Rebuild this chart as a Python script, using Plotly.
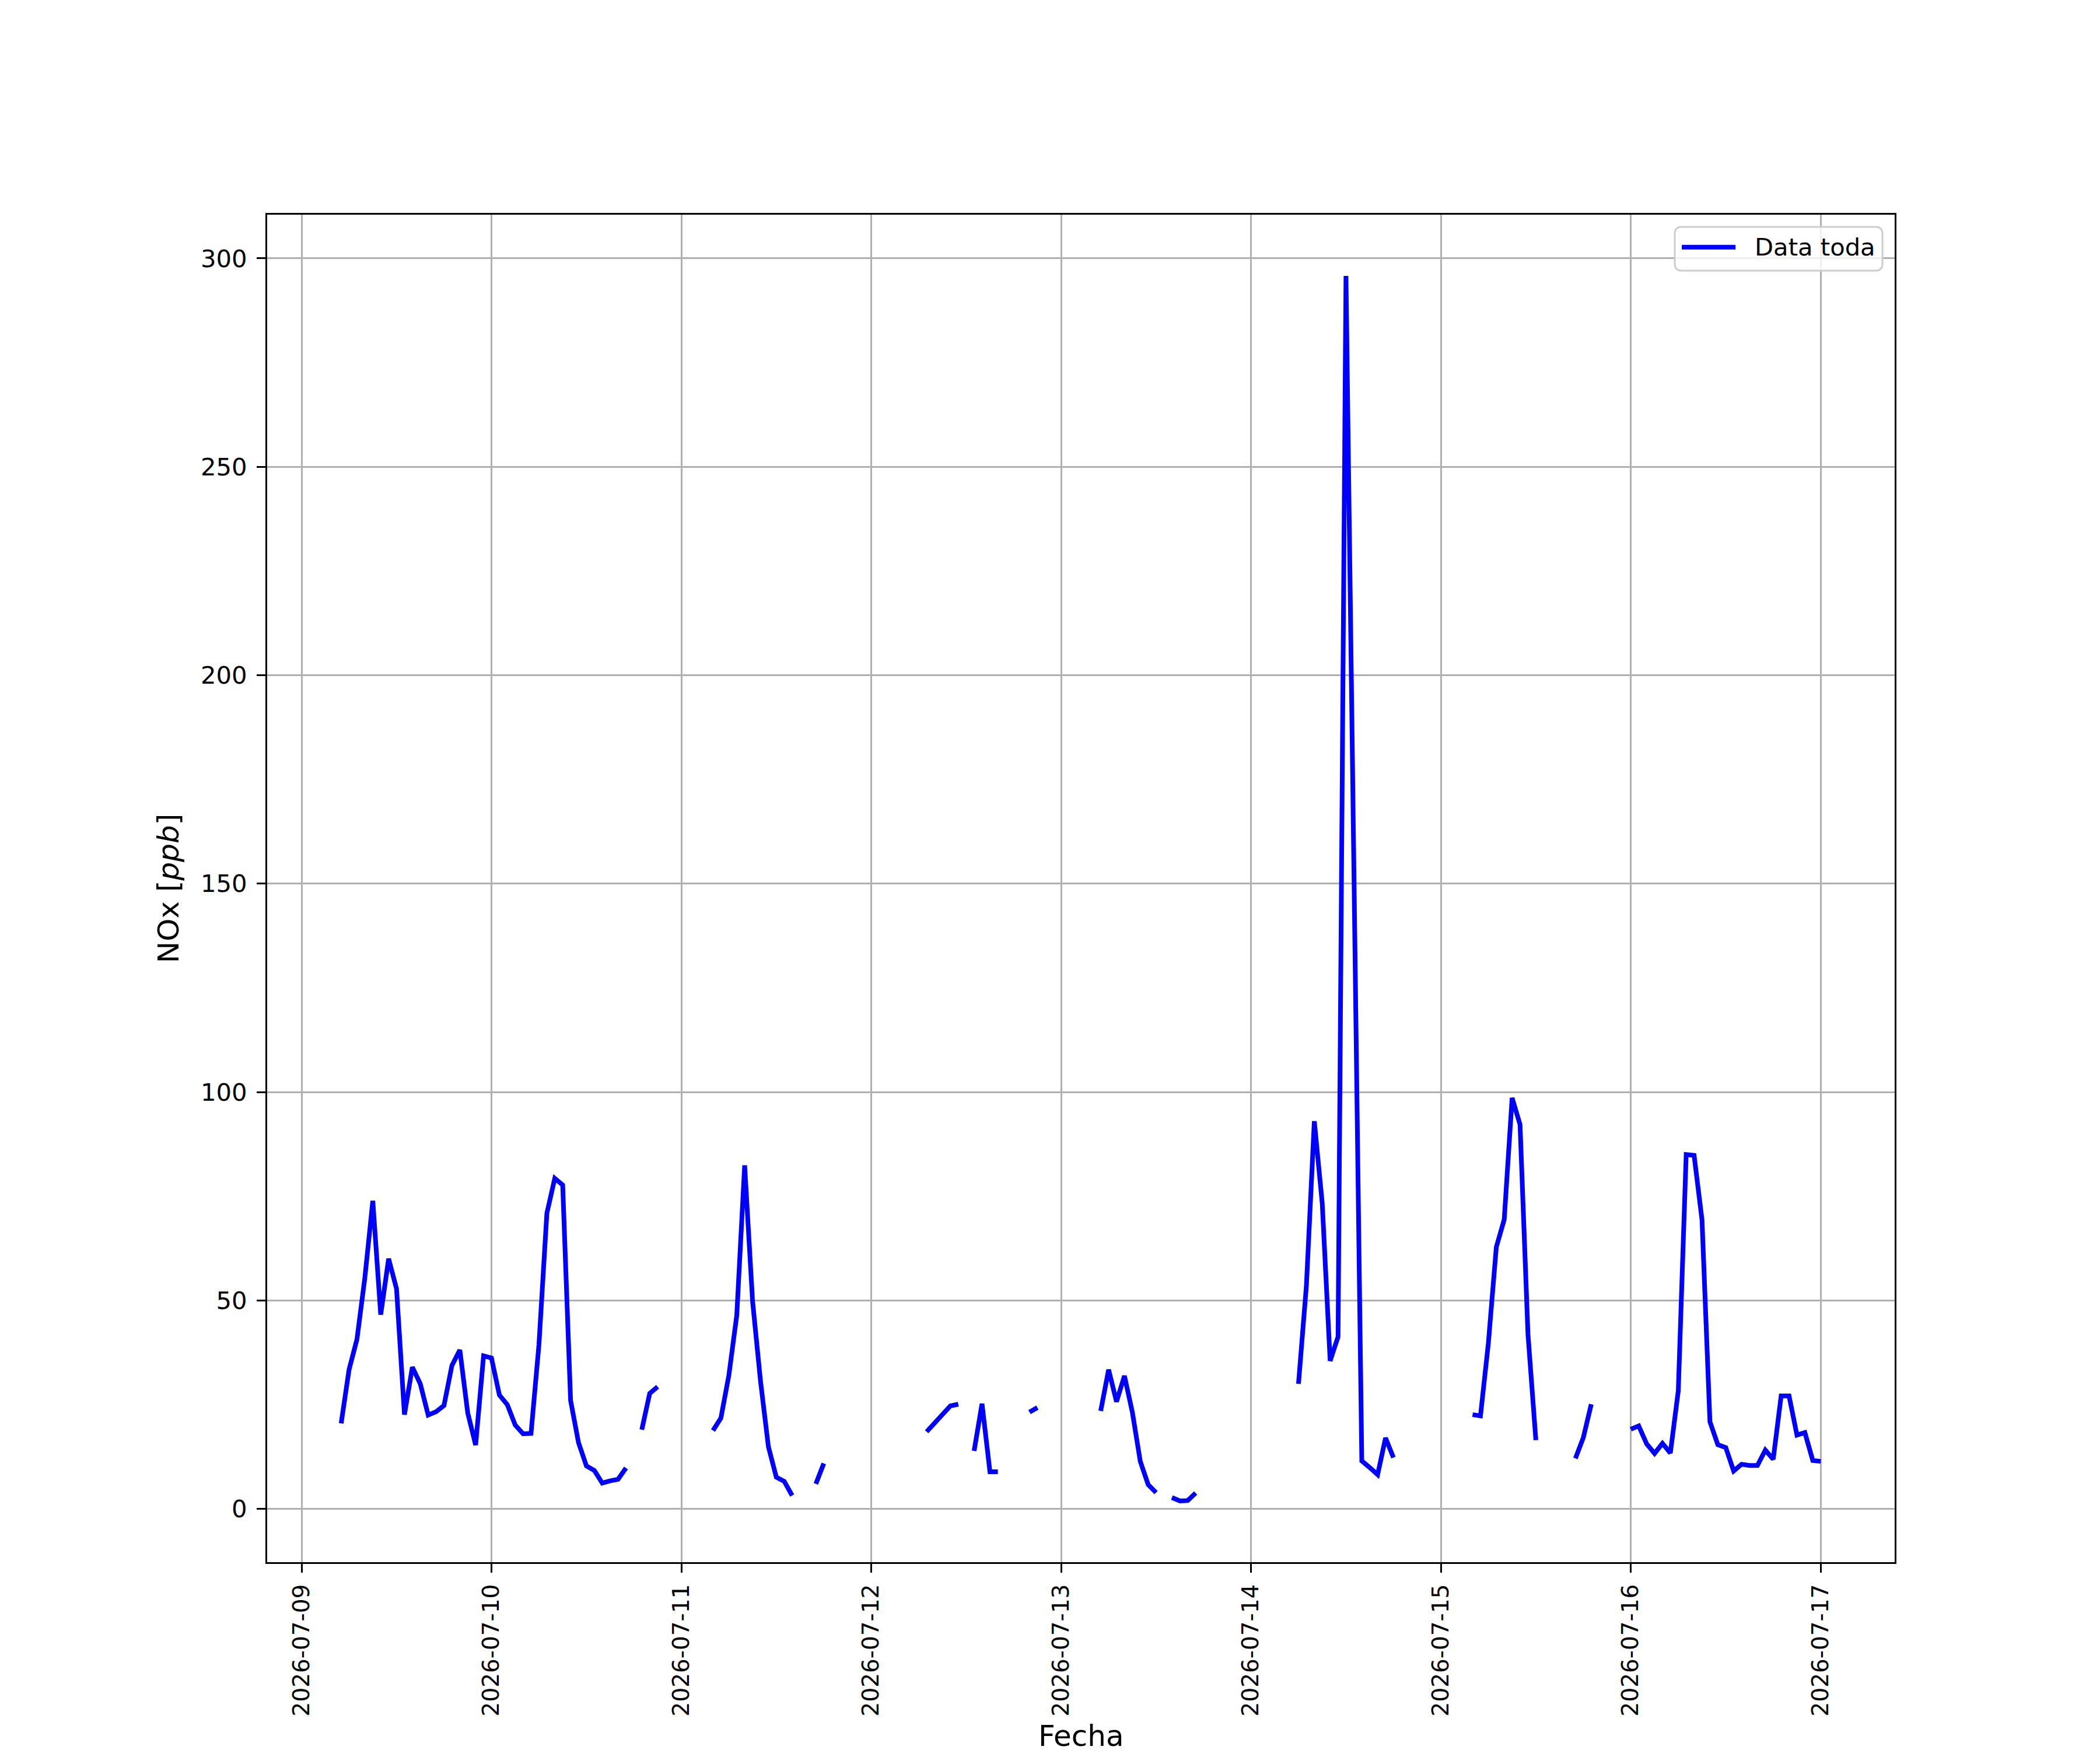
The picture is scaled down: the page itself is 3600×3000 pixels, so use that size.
import plotly.graph_objects as go
import pandas as pd
import numpy as np

# hourly NOx readings per day (hours 0..23), None = missing
nox_0709 = [None, None, None, None, None, 20.5, 33.4, 40.7, 55.5, 73.9, 46.6, 60.0,
            52.8, 22.6, 34.0, 30.0, 22.5, 23.3, 24.8, 34.4, 38.1, 23.0, 15.3, 36.7]
nox_0710 = [36.2, 27.3, 25.0, 20.1, 18.0, 18.1, 39.4, 70.9, 79.3, 77.7, 26.0, 15.9,
            10.3, 9.2, 6.2, 6.7, 7.1, 9.8, None, 19.0, 27.7, 29.3, None, None]
nox_0711 = [None, None, None, None, 18.8, 21.8, 32.0, 46.4, 82.4, 49.8, 30.7, 14.9,
            7.6, 6.6, 3.2, None, None, 6.0, 10.9, None, None, None, None, None]
nox_0712 = [None, None, None, None, None, None, None, 18.5, 20.6, 22.8, 24.7, 25.1,
            None, 13.9, 25.2, 8.9, 8.9, None, None, None, 23.2, 24.3, None, None]
nox_0713 = [None, None, None, None, None, 23.5, 33.4, 25.7, 31.9, 23.2, 11.4, 5.8,
            3.9, None, 2.7, 1.9, 2.0, 3.8, None, None, None, None, None, None]
nox_0714 = [None, None, None, None, None, None, 30.0, 53.6, 93.0, 73.3, 35.5, 41.3,
            295.8, 150.0, 11.5, 9.9, 8.2, 17.0, 12.3, None, None, None, None, None]
nox_0715 = [None, None, None, None, 22.6, 22.3, 39.8, 62.8, 69.4, 98.6, 92.2, 42.0,
            16.5, None, None, None, None, 12.1, 17.1, 25.1, None, None, None, None]
nox_0716 = [19.1, 19.9, 15.6, 13.3, 15.7, 13.4, 28.3, 85.0, 84.8, 69.3, 20.9, 15.4,
            14.7, 9.1, 10.7, 10.4, 10.4, 14.1, 11.9, 27.1, 27.1, 17.7, 18.3, 11.6]
nox_0717 = [11.4]

valores = (nox_0709 + nox_0710 + nox_0711 + nox_0712 + nox_0713 +
           nox_0714 + nox_0715 + nox_0716 + nox_0717)
fechas = pd.date_range("2026-07-09 00:00", periods=len(valores), freq="h")

df = pd.DataFrame({"fecha": fechas, "nox": np.array(valores, dtype=float)})

# padding del 5% como matplotlib
validos = df.dropna()
t0, t1 = validos["fecha"].min(), validos["fecha"].max()
dt = (t1 - t0) * 0.05
y0, y1 = validos["nox"].min(), validos["nox"].max()
dy = (y1 - y0) * 0.05

AZUL = "#0000ff"

fig = go.Figure()
fig.add_trace(go.Scatter(x=df["fecha"], y=df["nox"], mode="lines",
                         name="Data toda", showlegend=False,
                         line=dict(color=AZUL, width=8),
                         connectgaps=False))

eje = dict(showline=True, mirror=True, linecolor="black", linewidth=3.3,
           ticks="outside", ticklen=15, tickwidth=3.3, tickcolor="black",
           showgrid=True, gridcolor="#b0b0b0", gridwidth=3.3, zeroline=False,
           automargin=False)

fig.update_xaxes(eje, range=[t0 - dt, t1 + dt], tickformat="%Y-%m-%d",
                 dtick=86400000, tick0="2026-07-09", tickangle=-90,
                 ticklabelstandoff=4, tickfont=dict(size=39, color="black"))
fig.update_yaxes(eje, range=[y0 - dy, y1 + dy], dtick=50, tick0=0,
                 ticklabelstandoff=8, tickfont=dict(size=41.7, color="black"),
                 title=dict(text="NOx [<i>ppb</i>]", font=dict(size=50, color="black"), standoff=22))

# leyenda al estilo matplotlib (esquina superior derecha, marco redondeado)
bx0, bx1, by0, by1 = 0.8649, 0.9925, 0.9584, 0.9909
rx, ry = 12 / 2790, 12 / 2310
caja = (f"M{bx0 + rx},{by1} L{bx1 - rx},{by1} Q{bx1},{by1} {bx1},{by1 - ry} "
        f"L{bx1},{by0 + ry} Q{bx1},{by0} {bx1 - rx},{by0} "
        f"L{bx0 + rx},{by0} Q{bx0},{by0} {bx0},{by0 + ry} "
        f"L{bx0},{by1 - ry} Q{bx0},{by1} {bx0 + rx},{by1} Z")
fig.add_shape(type="path", path=caja, xref="paper", yref="paper",
              line=dict(color="#cccccc", width=3), fillcolor="rgba(255,255,255,0.8)")
fig.add_shape(type="line", xref="paper", yref="paper",
              x0=0.8692, x1=0.9022, y0=0.9759, y1=0.9759,
              line=dict(color=AZUL, width=8))
fig.add_annotation(text="Data toda", xref="paper", yref="paper",
                   x=0.9133, y=0.9759, xanchor="left", yanchor="middle",
                   showarrow=False, font=dict(size=41.7, color="black"))

# titulo del eje x
fig.add_annotation(text="Fecha", xref="paper", yref="paper",
                   x=0.5, y=-0.1425, xanchor="center", yanchor="bottom",
                   showarrow=False, font=dict(size=50, color="black"))

fig.update_layout(width=3600, height=3000,
                  margin=dict(l=450, r=360, t=360, b=330),
                  plot_bgcolor="white", paper_bgcolor="white",
                  font=dict(family="DejaVu Sans", color="black"))

fig.write_html("out.html")
